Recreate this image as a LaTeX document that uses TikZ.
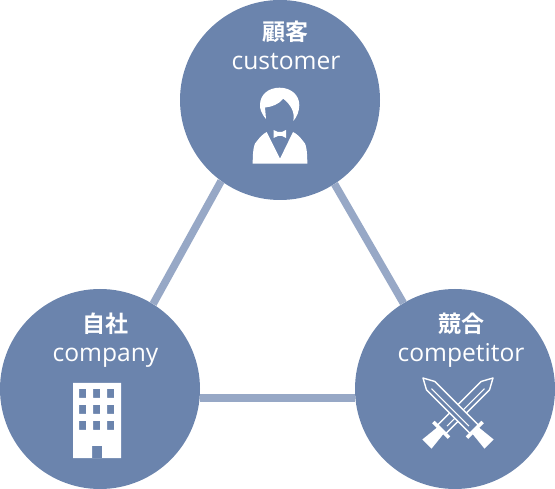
\documentclass[tikz,border=0pt]{standalone}
\usepackage{fontspec}
\setmainfont{Open Sans}
\newfontfamily\cjk{Noto Sans CJK JP}[BoldFont={Noto Sans CJK JP Bold}]
\definecolor{hubblue}{HTML}{6B84AD}
\definecolor{linkblue}{HTML}{97A8C6}
\tikzset{
  hub/.style={circle,fill=hubblue,minimum size=200pt,inner sep=0pt},
  link/.style={draw=linkblue,line width=7.6pt},
  jp/.style={text=white,font=\cjk\bfseries\fontsize{23}{23}\selectfont,inner sep=0pt,anchor=center},
  en/.style={text=white,font=\fontsize{24.6}{24.6}\selectfont,inner sep=0pt,anchor=base},
  icon/.style={fill=white,draw=none}
}
\begin{document}
\begin{tikzpicture}[x=1pt,y=-1pt]
\useasboundingbox (0,0) rectangle (555,489);
\node[hub] (customer) at (280,100) {};
\node[hub] (company) at (100,389) {};
\node[hub] (competitor) at (455,389) {};
\draw[link] (customer.234.8) -- (company.58.9);
\draw[link] (customer.-57.1) -- (competitor.121.5);
\draw[link] (company.-5.7) -- (competitor.185.7);
\node[jp] (t1) at (285.5,32) {顧客};
\node[en] (e1) at (286,70) {customer};
\node[jp] (t2) at (105.5,324) {自社};
\node[en] (e2) at (105.5,362) {company};
\node[jp] (t3) at (461,324) {競合};
\node[en] (e3) at (461,362) {competitor};
% person
\fill[icon] (266,119) .. controls (261,113) and (260,109) .. (260,105) .. controls (260,95) and (268,87.7) .. (279.5,87.7) .. controls (291,87.7) and (299.3,95) .. (299.3,105) .. controls (299.3,111) and (297,117) .. (293.3,121) .. controls (295,112) and (291,105) .. (283.3,98.7) .. controls (279,104) and (272,107) .. (265,107.5) -- cycle;
\fill[icon] (252.7,163.7) .. controls (252.7,150) and (254,143) .. (257,141) .. controls (260,137) and (263,134) .. (266.7,132) -- (280,158.7) -- (293,132) .. controls (297,134) and (300,137) .. (303,141) .. controls (306,143) and (307.3,150) .. (307.3,163.7) -- cycle;
\fill[icon] (273.5,130) -- (278,132) -- (282,132) -- (286,130) -- (286,138) -- (282,136) -- (278,136) -- (273.5,138) -- cycle;
% building
\fill[icon,even odd rule] (73,383) rectangle (121,458)
 (79,389) rectangle (86,398) (93,389) rectangle (100,398) (107,389) rectangle (114,398)
 (79,405) rectangle (86,414) (93,405) rectangle (100,414) (107,405) rectangle (114,414)
 (79,421) rectangle (86,430) (93,421) rectangle (100,430) (107,421) rectangle (114,430)
 (92,446) rectangle (102,458);
% swords
\foreach \s in {-1,1}{
\begin{scope}[shift={(458,413)},xscale=\s,rotate=45]
 \draw[white,line width=1.4pt,fill=hubblue,line join=round] (-6,23) -- (-6,-38.5) -- (0,-49.5) -- (6,-38.5) -- (6,23) -- cycle;
 \draw[white,line width=1pt] (-1.5,-36) -- (-1.5,17);
 \fill[white] (-11,22) rectangle (11,25.5);
 \fill[white] (-4.5,25) -- (-6.5,44) -- (6.5,44) -- (4.5,25) -- cycle;
\end{scope}}
\end{tikzpicture}
\end{document}
